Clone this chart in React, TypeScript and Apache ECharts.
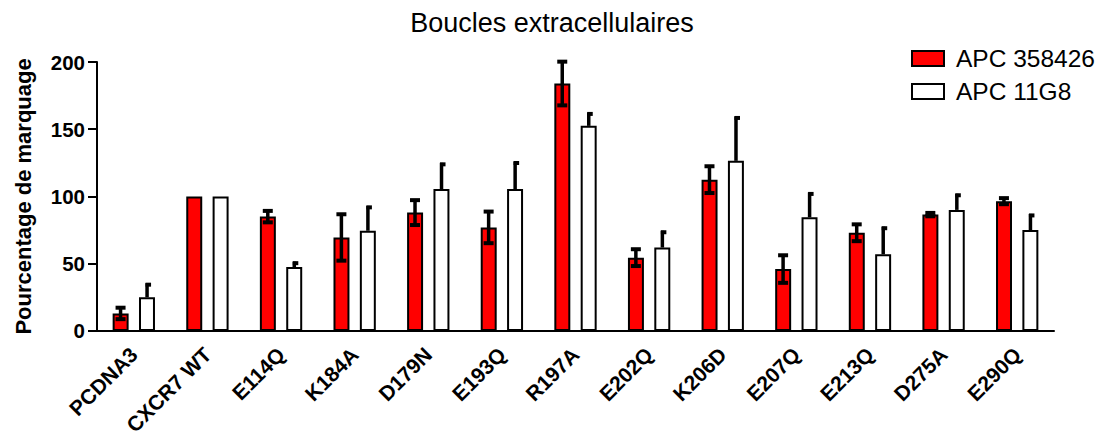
import React, { useEffect, useRef } from "react";
import * as echarts from "echarts";

const chartTitle = "Boucles extracellulaires";
const yAxisName = "Pourcentage de marquage";
const categories = ["PCDNA3", "CXCR7 WT", "E114Q", "K184A", "D179N", "E193Q", "R197A", "E202Q", "K206D", "E207Q", "E213Q", "D275A", "E290Q"];
const seriesNames = ["APC 358426", "APC 11G8"];
const apc358426 = [13, 100, 85, 69.5, 88, 77, 184, 54.5, 112.5, 46, 73, 86.5, 96.5];
const apc358426Err = [5, 0, 5, 18, 10, 12.5, 17, 7, 10.7, 11, 7, 2, 3];
const apc11G8 = [25, 100, 47.5, 74.5, 105.5, 105.5, 152.5, 62, 126.5, 84.5, 57, 90, 75];
const apc11G8Err = [10.5, 0, 4, 18.5, 19.5, 20.5, 10, 12.5, 33, 18.5, 20.5, 12, 12];
const yTicks = [0, 50, 100, 150, 200];

const FONT = "'Liberation Sans', Arial, Helvetica, sans-serif";
const OFFSET = 0.18;

function errData(vals: number[], errs: number[], both: boolean) {
  return vals
    .map((v, i) => [i, both ? v - errs[i] : v, v + errs[i], errs[i]])
    .filter((d) => d[3] > 0);
}

function makeRender(side: number, both: boolean) {
  return (params: any, api: any) => {
    const i = api.value(0);
    const lo = api.value(1);
    const hi = api.value(2);
    const pHi = api.coord([i, hi]);
    const pLo = api.coord([i, lo]);
    const w = api.size([1, 0])[0];
    const x = pHi[0] + side * OFFSET * w;
    const st = { stroke: "#000", lineWidth: 3.5 };
    const cap = { stroke: "#000", lineWidth: 4 };
    const children: any[] = [
      { type: "line", shape: { x1: x, y1: pHi[1], x2: x, y2: pLo[1] }, style: st },
    ];
    if (both) {
      children.push({ type: "line", shape: { x1: x - 5, y1: pHi[1] + 1, x2: x + 5, y2: pHi[1] + 1 }, style: cap });
      children.push({ type: "line", shape: { x1: x - 5, y1: pLo[1] - 1, x2: x + 5, y2: pLo[1] - 1 }, style: cap });
    } else {
      children.push({ type: "line", shape: { x1: x - 1.5, y1: pHi[1] + 1.5, x2: x + 4, y2: pHi[1] + 1.5 }, style: cap });
    }
    return { type: "group", children };
  };
}

export default function App() {
  const ref = useRef<HTMLDivElement>(null);
  useEffect(() => {
    if (!ref.current) return;
    const chart = echarts.init(ref.current, null, { renderer: "svg" });
    chart.setOption({
      animation: false,
      backgroundColor: "#fff",
      textStyle: { fontFamily: FONT },
      title: {
        text: chartTitle,
        left: "center",
        top: 4,
        textStyle: { fontFamily: FONT, fontSize: 27, fontWeight: "normal", color: "#000" },
      },
      legend: {
        orient: "vertical",
        left: 906,
        top: 41,
        itemWidth: 32,
        itemHeight: 15,
        itemGap: 8,
        icon: "rect",
        data: seriesNames,
        textStyle: { fontFamily: FONT, fontSize: 24.5, color: "#000", padding: [0, 0, 0, 7] },
      },
      grid: { left: 97, right: 50, top: 62, bottom: 105, containLabel: false },
      xAxis: {
        type: "category",
        data: categories,
        axisLine: { lineStyle: { color: "#000", width: 2 } },
        axisTick: { alignWithLabel: true, length: 7, lineStyle: { color: "#000", width: 2 } },
        axisLabel: {
          rotate: 45,
          margin: 20,
          interval: 0,
          color: "#000",
          fontFamily: FONT,
          fontWeight: "bold",
          fontSize: 21,
        },
      },
      yAxis: {
        type: "value",
        min: yTicks[0],
        max: yTicks[yTicks.length - 1],
        interval: 50,
        name: yAxisName,
        nameLocation: "middle",
        nameGap: 63,
        nameTextStyle: { fontFamily: FONT, fontSize: 22, fontWeight: "bold", color: "#000" },
        axisLine: { show: true, lineStyle: { color: "#000", width: 2 } },
        axisTick: { show: true, length: 9, lineStyle: { color: "#000", width: 2 } },
        axisLabel: { margin: 12, color: "#000", fontFamily: FONT, fontWeight: "bold", fontSize: 20.5 },
        splitLine: { show: false },
      },
      series: [
        {
          name: seriesNames[0],
          type: "bar",
          data: apc358426,
          barWidth: "21.7%",
          barGap: "65%",
          itemStyle: { color: "#ff0000", borderColor: "#000", borderWidth: 2 },
        },
        {
          name: seriesNames[1],
          type: "bar",
          data: apc11G8,
          barWidth: "21.7%",
          barGap: "65%",
          itemStyle: { color: "#ffffff", borderColor: "#000", borderWidth: 2 },
        },
        {
          type: "custom",
          renderItem: makeRender(-1, true),
          data: errData(apc358426, apc358426Err, true),
          encode: { x: 0, y: [1, 2] },
          z: 5,
          clip: false,
        },
        {
          type: "custom",
          renderItem: makeRender(1, false),
          data: errData(apc11G8, apc11G8Err, false),
          encode: { x: 0, y: [1, 2] },
          z: 5,
          clip: false,
        },
      ],
    });
    return () => chart.dispose();
  }, []);
  return <div ref={ref} style={{ width: 1104, height: 438, position: "absolute", left: 0, top: 0 }} />;
}
